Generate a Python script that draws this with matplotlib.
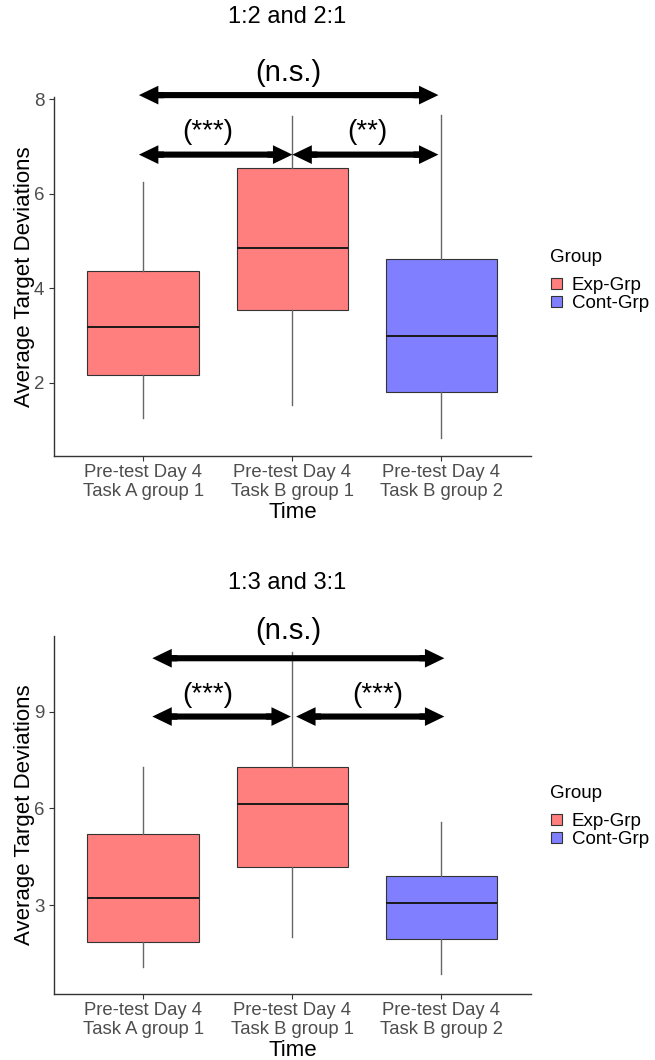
import matplotlib.pyplot as plt
from matplotlib.patches import Patch

plt.rcParams['font.family'] = ['Liberation Sans', 'DejaVu Sans']

# categories on the x axis and the group of each box
categories = ["Pre-test Day 4\nTask A group 1", "Pre-test Day 4\nTask B group 1", "Pre-test Day 4\nTask B group 2"]
box_groups = ["Exp-Grp", "Exp-Grp", "Cont-Grp"]
legend_groups = ["Exp-Grp", "Cont-Grp"]
group_colors = {"Exp-Grp": "#FF7F7F", "Cont-Grp": "#7F7FFF"}

# panel 1: 1:2 and 2:1 (box stats)
p1_title = "1:2 and 2:1"
p1_whislo = [1.25, 1.54, 0.83]
p1_q1 = [2.17, 3.54, 1.80]
p1_med = [3.19, 4.85, 3.00]
p1_q3 = [4.37, 6.54, 4.62]
p1_whishi = [6.25, 7.65, 7.67]
p1_yticks = [2, 4, 6, 8]
p1_ylim = (0.45, 8.05)
# significance arrows: start, end, height
p1_arrow_x0 = [0.97, 0.97, 2.0]
p1_arrow_x1 = [2.98, 2.0, 2.98]
p1_arrow_y = [8.09, 6.83, 6.83]
p1_sig_labels = ["(n.s.)", "(***)", "(**)"]
p1_sig_x = [1.97, 1.43, 2.5]
p1_sig_y = [8.56, 7.31, 7.31]

# panel 2: 1:3 and 3:1
p2_title = "1:3 and 3:1"
p2_whislo = [1.08, 2.00, 0.87]
p2_q1 = [1.84, 4.19, 1.94]
p2_med = [3.21, 6.13, 3.05]
p2_q3 = [5.20, 7.29, 3.90]
p2_whishi = [7.27, 10.86, 5.58]
p2_yticks = [3, 6, 9]
p2_ylim = (0.24, 11.35)
p2_arrow_x0 = [1.06, 1.06, 2.025]
p2_arrow_x1 = [3.02, 1.99, 3.02]
p2_arrow_y = [10.66, 8.85, 8.85]
p2_sig_labels = ["(n.s.)", "(***)", "(***)"]
p2_sig_x = [1.97, 1.43, 2.57]
p2_sig_y = [11.5, 9.52, 9.52]


def draw_panel(ax, title, title_y, leg_y, whislo, q1, med, q3, whishi, yticks, ylim,
               ax0, ax1, ay, labels, lx, ly):
    stats = []
    for i in range(len(categories)):
        stats.append(dict(whislo=whislo[i], q1=q1[i], med=med[i], q3=q3[i],
                          whishi=whishi[i], fliers=[]))
    bp = ax.bxp(stats, positions=[1, 2, 3], widths=0.75, patch_artist=True,
                showcaps=False,
                boxprops=dict(edgecolor="#333333", linewidth=0.8),
                medianprops=dict(color="#1a1a1a", linewidth=1.4),
                whiskerprops=dict(color="#666666", linewidth=1.0))
    for patch, g in zip(bp["boxes"], box_groups):
        patch.set_facecolor(group_colors[g])

    ax.set_xlim(0.4, 3.6)
    ax.set_ylim(ylim)
    ax.set_yticks(yticks)
    ax.set_xticks([1, 2, 3])
    ax.set_xticklabels(categories, fontsize=13.3, color="#4D4D4D", linespacing=1.2)
    ax.tick_params(axis="y", labelsize=13.5, labelcolor="#4D4D4D", color="#333333", length=3.5)
    ax.tick_params(axis="x", color="#333333", length=3.5, pad=2)
    for s in ["top", "right"]:
        ax.spines[s].set_visible(False)
    for s in ["left", "bottom"]:
        ax.spines[s].set_color("#333333")
        ax.spines[s].set_linewidth(1.0)
    ax.set_xlabel("Time", fontsize=16, labelpad=1)
    ax.set_ylabel("Average Target Deviations", fontsize=16, labelpad=-1)
    ax.text(0.49, title_y, title, fontsize=17, ha="center", va="center",
            transform=ax.transAxes)

    # double headed arrows: a thick shaft plus a filled head at each end
    for i in range(len(ax0)):
        ax.annotate("", xy=(ax1[i], ay[i]), xytext=(ax0[i], ay[i]),
                    arrowprops=dict(arrowstyle="-", lw=4.4, color="black",
                                    capstyle="butt", shrinkA=9, shrinkB=9),
                    annotation_clip=False)
        for end, off in [(ax0[i], 18), (ax1[i], -18)]:
            ax.annotate("", xy=(end, ay[i]), xytext=(off, 0), textcoords="offset points",
                        arrowprops=dict(arrowstyle="simple,head_length=1.4,head_width=1.35,tail_width=0.45",
                                        mutation_scale=10, lw=0, color="black",
                                        shrinkA=0, shrinkB=0),
                        annotation_clip=False)
        ax.text(lx[i], ly[i], labels[i], fontsize=21 if i == 0 else 20,
                ha="center", va="center", clip_on=False)

    ax.text(1.04, leg_y, "Group", fontsize=13.5, ha="left", va="center",
            transform=ax.transAxes)
    handles = [Patch(facecolor=group_colors[g], edgecolor="#333333", linewidth=0.8)
               for g in legend_groups]
    ax.legend(handles, legend_groups, loc="center left",
              bbox_to_anchor=(1.043, leg_y - 0.105), borderaxespad=0, borderpad=0,
              frameon=False, fontsize=13.5, handlelength=0.55, handleheight=0.5,
              handletextpad=0.55, labelspacing=0.05)


fig = plt.figure(figsize=(6.55, 10.6), dpi=100)
ax1 = fig.add_axes([0.0824, 0.5698, 0.728, 0.3387])
ax2 = fig.add_axes([0.0824, 0.0623, 0.728, 0.3377])

draw_panel(ax1, p1_title, 1.223, 0.554, p1_whislo, p1_q1, p1_med, p1_q3, p1_whishi, p1_yticks, p1_ylim,
           p1_arrow_x0, p1_arrow_x1, p1_arrow_y, p1_sig_labels, p1_sig_x, p1_sig_y)
draw_panel(ax2, p2_title, 1.148, 0.561, p2_whislo, p2_q1, p2_med, p2_q3, p2_whishi, p2_yticks, p2_ylim,
           p2_arrow_x0, p2_arrow_x1, p2_arrow_y, p2_sig_labels, p2_sig_x, p2_sig_y)

fig.savefig("out.png", dpi=100)
